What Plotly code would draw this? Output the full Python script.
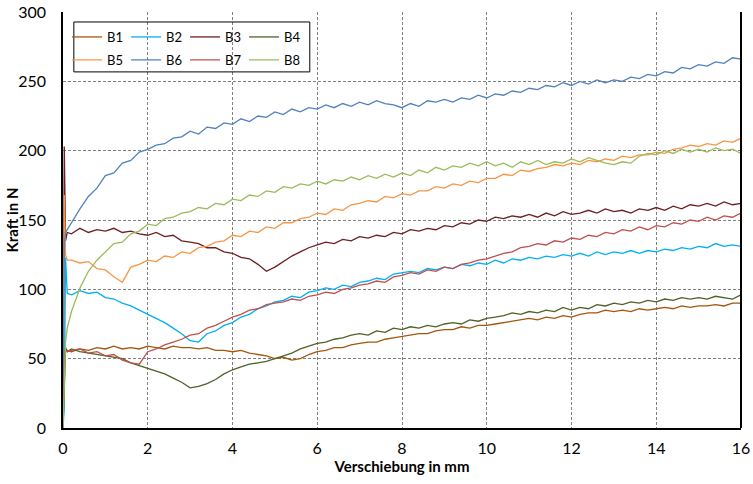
import plotly.graph_objects as go

X = [0, 0.03, 0.06, 0.1,
     0.2, 0.4, 0.6, 0.8, 1.0, 1.2, 1.4, 1.6, 1.8, 2.0,
     2.2, 2.4, 2.6, 2.8, 3.0, 3.2, 3.4, 3.6, 3.8, 4.0,
     4.2, 4.4, 4.6, 4.8, 5.0, 5.2, 5.4, 5.6, 5.8, 6.0,
     6.2, 6.4, 6.6, 6.8, 7.0, 7.2, 7.4, 7.6, 7.8, 8.0,
     8.2, 8.4, 8.6, 8.8, 9.0, 9.2, 9.4, 9.6, 9.8, 10.0,
     10.2, 10.4, 10.6, 10.8, 11.0, 11.2, 11.4, 11.6, 11.8, 12.0,
     12.2, 12.4, 12.6, 12.8, 13.0, 13.2, 13.4, 13.6, 13.8, 14.0,
     14.2, 14.4, 14.6, 14.8, 15.0, 15.2, 15.4, 15.6, 15.8, 16.0]

B1 = [0, 55, 57, 56,
      55, 57, 56, 58, 57, 59, 57, 58, 57, 59,
      58, 57, 59, 58, 58, 57, 58, 56, 56, 55,
      56, 54, 53, 52, 50, 51, 49, 50, 53, 55,
      56, 58, 58, 60, 61, 62, 62, 64, 65, 66,
      67, 68, 68, 70, 71, 71, 73, 72, 74, 74,
      75, 76, 77, 78, 79, 78, 80, 79, 81, 80,
      82, 83, 83, 85, 84, 85, 84, 86, 85, 86,
      87, 86, 88, 87, 88, 88, 89, 88, 90, 90]

B2 = [0, 15, 123, 97,
      96, 99, 97, 98, 94, 93, 90, 88, 85, 82,
      79, 76, 72, 68, 63, 62, 68, 70, 74, 76,
      80, 82, 86, 88, 91, 92, 95, 94, 98, 99,
      101, 100, 103, 102, 105, 106, 108, 107, 111, 112,
      113, 112, 115, 114, 116, 115, 118, 117, 119, 118,
      121, 119, 122, 121, 123, 122, 124, 123, 125, 124,
      126, 124, 127, 125, 127, 126, 128, 126, 128, 127,
      129, 128, 130, 129, 131, 130, 133, 131, 132, 131]

B3 = [0, 203, 135, 141,
      140, 144, 141, 143, 142, 144, 141, 142, 140, 139,
      141, 138, 139, 135, 134, 133, 130, 130, 127, 126,
      123, 122, 118, 113, 116, 120, 124, 127, 130, 132,
      134, 133, 136, 135, 138, 137, 139, 138, 141, 140,
      143, 142, 144, 143, 146, 145, 148, 147, 150, 149,
      152, 151, 153, 152, 154, 152, 155, 153, 156, 154,
      155, 157, 155, 158, 156, 157, 155, 158, 157, 159,
      157, 160, 158, 161, 160, 162, 160, 163, 161, 162]

B4 = [0, 40, 58, 55,
      57, 55, 54, 53, 52, 51, 50, 47, 45, 43,
      41, 39, 36, 33, 29, 30, 32, 35, 39, 42,
      44, 46, 47, 48, 50, 52, 54, 57, 59, 61,
      62, 64, 65, 67, 68, 67, 70, 69, 72, 71,
      73, 72, 74, 73, 75, 76, 75, 78, 77, 79,
      80, 81, 83, 82, 84, 83, 85, 84, 87, 85,
      87, 86, 89, 88, 90, 89, 91, 90, 92, 91,
      93, 92, 94, 93, 94, 93, 95, 94, 93, 96]

B5 = [0, 168, 125, 121,
      121, 119, 120, 115, 114, 109, 105, 116, 118, 121,
      120, 124, 123, 127, 126, 130, 131, 134, 135, 139,
      138, 142, 141, 145, 144, 148, 148, 151, 152, 155,
      154, 158, 157, 161, 162, 164, 163, 167, 166, 169,
      168, 171, 171, 174, 173, 176, 175, 178, 177, 180,
      180, 183, 182, 186, 185, 187, 188, 190, 189, 191,
      190, 193, 192, 194, 193, 196, 195, 197, 197, 199,
      198, 201, 202, 204, 203, 205, 204, 207, 206, 209]

B6 = [0, 133, 141, 143,
      149, 158, 167, 173, 182, 184, 191, 193, 199, 201,
      204, 205, 209, 210, 214, 212, 217, 216, 220, 219,
      223, 221, 225, 224, 228, 226, 230, 228, 231, 230,
      233, 231, 234, 232, 235, 233, 236, 234, 233, 231,
      234, 232, 236, 235, 237, 235, 238, 237, 240, 238,
      241, 240, 243, 242, 245, 244, 247, 246, 249, 247,
      250, 248, 251, 249, 251, 250, 253, 252, 255, 254,
      257, 256, 260, 259, 262, 261, 264, 263, 267, 266]

B7 = [0, 45, 57, 55,
      56, 57, 54, 55, 52, 53, 49, 47, 46, 55,
      57, 60, 62, 64, 67, 68, 72, 74, 77, 80,
      82, 85, 86, 89, 90, 91, 93, 92, 95, 96,
      98, 97, 100, 101, 103, 104, 106, 105, 109, 110,
      112, 111, 114, 113, 116, 115, 118, 119, 121, 122,
      124, 126, 127, 130, 131, 133, 132, 135, 134, 137,
      136, 139, 138, 141, 140, 143, 142, 145, 143, 146,
      145, 148, 147, 150, 149, 152, 150, 153, 152, 155]

B8 = [0, 30, 62, 72,
      84, 101, 113, 121, 127, 133, 134, 140, 142, 147,
      146, 151, 152, 155, 156, 159, 158, 162, 161, 165,
      164, 168, 167, 171, 170, 174, 173, 176, 175, 178,
      176, 179, 178, 181, 179, 182, 180, 183, 181, 184,
      182, 186, 184, 188, 186, 189, 188, 191, 189, 192,
      189, 191, 188, 192, 190, 193, 190, 192, 191, 194,
      192, 195, 193, 191, 190, 192, 191, 196, 198, 197,
      200, 198, 201, 199, 201, 199, 202, 200, 201, 198]

NAMES = ["B1", "B2", "B3", "B4", "B5", "B6", "B7", "B8"]
SERIES = [B1, B2, B3, B4, B5, B6, B7, B8]
COLORS = ["#A4560F", "#00B0F0", "#6B1F1F", "#4F6228",
          "#F79646", "#4F81BD", "#C0504D", "#9BBB59"]

X_TICKS = [0, 2, 4, 6, 8, 10, 12, 14, 16]
Y_TICKS = [0, 50, 100, 150, 200, 250, 300]

FONT = "Lato, 'Open Sans', sans-serif"

fig = go.Figure()
for i, (name, ys, col) in enumerate(zip(NAMES, SERIES, COLORS)):
    fig.add_trace(go.Scatter(
        x=X, y=ys, name=name, mode="lines",
        line=dict(color=col, width=1.3),
        legend="legend" if i < 4 else "legend2",
    ))

legend_common = dict(
    orientation="h", xanchor="left", yanchor="top",
    font=dict(family=FONT, size=13, color="#000"),
    bgcolor="rgba(0,0,0,0)", borderwidth=0,
    entrywidth=14, entrywidthmode="pixels",
    itemwidth=30, tracegroupgap=0,
)

fig.update_layout(
    width=753, height=484,
    margin=dict(l=63, r=12, t=12, b=56, autoexpand=False),
    paper_bgcolor="white", plot_bgcolor="white",
    font=dict(family=FONT, size=14, color="#000"),
    showlegend=True,
    legend=dict(x=0.006, y=0.976, **legend_common),
    legend2=dict(x=0.006, y=0.921, **legend_common),
    xaxis=dict(
        range=[0, 16], tickvals=X_TICKS, ticktext=[str(v) for v in X_TICKS],
        showgrid=True, gridcolor="#808080", griddash="3px,2px", gridwidth=1,
        showline=True, linecolor="#000", linewidth=1.5, zeroline=False,
        ticks="", ticklabelstandoff=5, automargin=False,
        tickfont=dict(family=FONT, size=16, color="#000"),
        title=dict(text="<b>Verschiebung in mm</b>", standoff=6,
                   font=dict(family=FONT, size=15, color="#000")),
    ),
    yaxis=dict(
        range=[0, 300], tickvals=Y_TICKS, ticktext=[str(v) for v in Y_TICKS],
        showgrid=True, gridcolor="#808080", griddash="3px,2px", gridwidth=1,
        showline=True, linecolor="#000", linewidth=1.5, zeroline=False,
        ticks="", ticklabelstandoff=12, automargin=False,
        tickfont=dict(family=FONT, size=16, color="#000"),
    ),
    annotations=[
        dict(text="<b>Kraft in N</b>", xref="paper", yref="paper",
             x=-0.0745, y=0.5, xanchor="center", yanchor="middle",
             textangle=-90, showarrow=False,
             font=dict(family=FONT, size=15, color="#000")),
    ],
    shapes=[
        dict(type="line", xref="paper", yref="paper", x0=1, x1=1, y0=0, y1=1,
             line=dict(color="#000", width=2)),
        dict(type="rect", xref="paper", yref="paper", x0=0.016, x1=0.364,
             y0=0.856, y1=0.976, line=dict(color="#000", width=1),
             fillcolor="rgba(0,0,0,0)"),
    ],
)

fig.write_html("out.html",
               config={"displayModeBar": False},
               post_script="document.body.style.margin='0';"
                           "document.body.style.overflow='hidden';")
